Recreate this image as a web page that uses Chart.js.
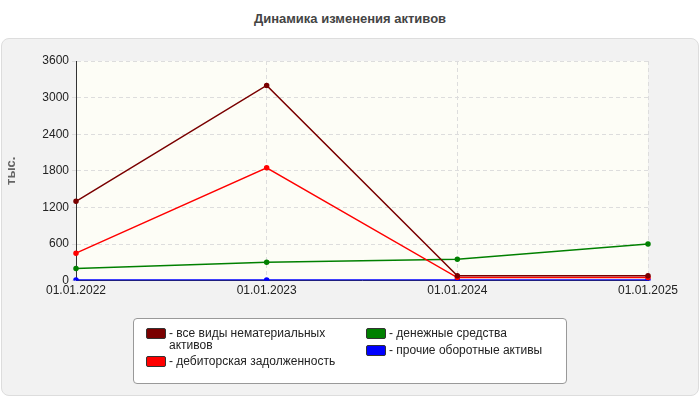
<!DOCTYPE html>
<html lang="ru">
<head>
<meta charset="UTF-8" />
<script src="https://cdn.jsdelivr.net/npm/chart.js"></script>
<style>
  body { margin: 0; background: #fff; font-family: Arial, "Liberation Sans", sans-serif; }
  #wrap { position: relative; width: 700px; height: 400px; }
  #title { position: absolute; top: 11px; width: 700px; text-align: center; font-size: 13px; font-weight: bold; color: #444; }
  #panel { position: absolute; left: 1px; top: 38px; width: 696px; height: 356px; background: #f2f2f2; border: 1px solid #ddd; border-radius: 8px; }
  canvas { position: absolute; left: 0; top: 0; }
  #legend { position: absolute; left: 133px; top: 318px; width: 432px; height: 64px; background: #fff; border: 1px solid #999; border-radius: 4px; font-size: 12px; color: #222; }
  .item { position: absolute; display: flex; align-items: flex-start; line-height: 12px; }
  .box { width: 18px; height: 9px; border: 1px solid #333; border-radius: 2px; margin-right: 3px; margin-top: 1px; flex: none; }
</style>
</head>
<body>
<div id="wrap">
  <div id="title">Динамика изменения активов</div>
  <div id="panel"></div>
  <canvas id="c" width="700" height="400"></canvas>
  <div id="legend"></div>
</div>
<script>
const labels = ["01.01.2022", "01.01.2023", "01.01.2024", "01.01.2025"];
const intangible = [1300, 3200, 80, 80];
const receivables = [450, 1850, 50, 50];
const cash = [200, 300, 350, 600];
const otherCurrent = [10, 10, 10, 10];
const names = ["все виды нематериальных активов", "дебиторская задолженность", "денежные средства", "прочие оборотные активы"];
const colors = ["#7a0000", "#ff0000", "#008000", "#0000ff"];
const series = [intangible, receivables, cash, otherCurrent];

const legendPos = [[12, 8], [12, 36], [232, 8], [232, 25]];
const lg = document.getElementById("legend");
names.forEach((n, i) => {
  const d = document.createElement("div");
  d.className = "item";
  d.style.left = legendPos[i][0] + "px";
  d.style.top = legendPos[i][1] + "px";
  d.style.width = "205px";
  d.innerHTML = '<span class="box" style="background:' + colors[i] + '"></span><span>- ' + n + '</span>';
  lg.appendChild(d);
});

const areaBg = {
  id: "areaBg",
  beforeDraw(chart) {
    const a = chart.chartArea, ctx = chart.ctx;
    ctx.save();
    ctx.fillStyle = "#fdfdf6";
    ctx.fillRect(a.left, a.top, a.right - a.left, a.bottom - a.top);
    ctx.restore();
  }
};

new Chart(document.getElementById("c"), {
  type: "line",
  data: {
    labels: labels,
    datasets: series.map((s, i) => ({
      label: names[i], data: s, borderColor: colors[i], backgroundColor: colors[i],
      borderWidth: 1.5, pointRadius: 2, tension: 0
    }))
  },
  options: {
    responsive: false, animation: false,
    layout: { padding: { left: 0, right: 52, top: 61, bottom: 99 } },
    plugins: { legend: { display: false }, tooltip: { enabled: false } },
    scales: {
      x: {
        offset: false,
        grid: { color: "#ddd", drawTicks: false },
        border: { color: "#333", dash: [4, 3] },
        ticks: { color: "#222", font: { size: 12 }, maxRotation: 0, padding: 3 }
      },
      y: {
        min: 0, max: 3600,
        grid: { color: "#ddd", drawTicks: true, tickLength: 4 },
        border: { color: "#333", dash: [4, 3] },
        ticks: { stepSize: 600, color: "#222", font: { size: 12 }, callback: v => String(v) },
        title: { display: true, text: "тыс.", color: "#666", font: { size: 13, weight: "bold" } },
        afterFit(s) { s.width = 76; }
      }
    }
  },
  plugins: [areaBg]
});
</script>
</body>
</html>
